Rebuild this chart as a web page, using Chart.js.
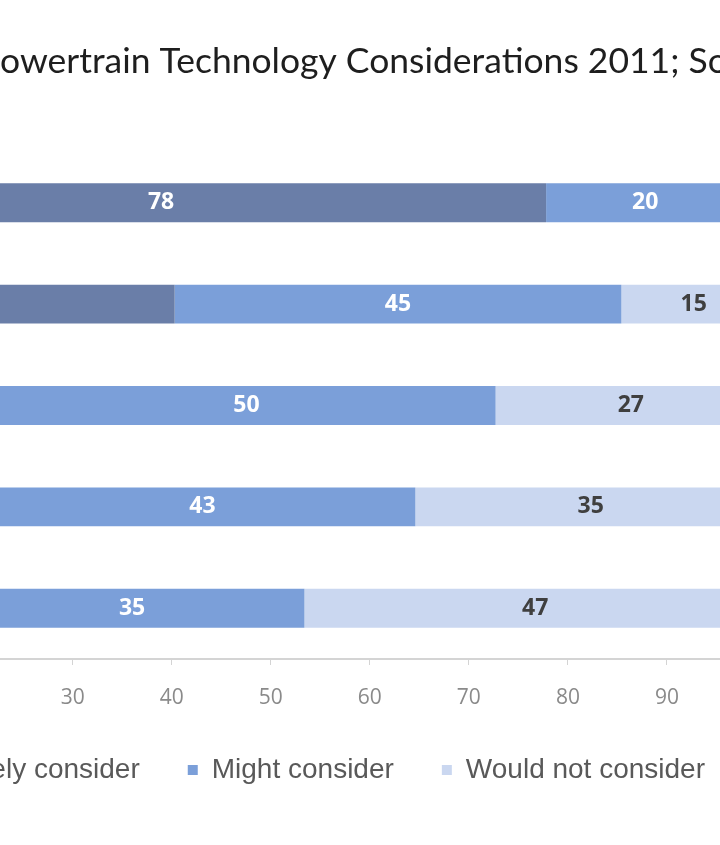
<!DOCTYPE html>
<html>
<head>
<meta charset="utf-8">
<script src="https://cdn.jsdelivr.net/npm/chart.js@4.4.1/dist/chart.umd.min.js"></script>
<style>
    html, body { margin: 0; padding: 0; overflow: hidden; background: #ffffff; }
    #wrap { position: absolute; left: -500px; top: 0; width: 1304px; height: 845px; }
</style>
</head>
<body>
<div id="wrap"><canvas id="powertrainChart"></canvas></div>
<script>
// Chart data (labels are shown rounded like the original)
const chartTitle = 'Powertrain Technology Considerations 2011; Source: J.D. Power';
const categories = ['Gasoline', 'Hybrid', 'Clean diesel', 'Plug-in hybrid', 'Electric'];
const seriesNames = ['Definitely consider', 'Might consider', 'Would not consider'];
const definitely = [77.8, 40.3, 22.4, 21.6, 18.6];
const might = [20.0, 45.1, 50.3, 43.0, 34.8];
const wouldNot = [2.2, 14.6, 27.3, 35.4, 46.6];
const xMin = 0, xMax = 100, xStep = 10;

const barColors = ['#6a7ea8', '#7b9fd9', '#cad7f0'];
const labelColors = ['#ffffff', '#ffffff', '#3f3f3f'];

// the wrapper is shifted left, so the canvas starts 500px before the window
const offsetX = 500;

// title drawn straight on the canvas, sized so the visible part fits the window
const titlePlugin = {
    id: 'titleText',
    afterDraw(chart) {
        const ctx = chart.ctx;
        ctx.save();
        ctx.font = '100px Lato';
        const w = ctx.measureText('owertrain Technology Considerations 2011; S').width;
        const size = 100 * 708 / w;
        ctx.font = size + 'px Lato';
        const wP = ctx.measureText('P').width;
        ctx.fillStyle = '#1e1e1e';
        ctx.textBaseline = 'alphabetic';
        ctx.textAlign = 'left';
        ctx.fillText(chartTitle, offsetX + 1 - wP, 73);
        ctx.restore();
    }
};

// value labels in the middle of each segment
const valueLabels = {
    id: 'valueLabels',
    afterDatasetsDraw(chart) {
        const ctx = chart.ctx;
        ctx.save();
        ctx.font = 'bold 23px "Open Sans"';
        ctx.textAlign = 'center';
        ctx.textBaseline = 'middle';
        chart.data.datasets.forEach((ds, di) => {
            const meta = chart.getDatasetMeta(di);
            ctx.fillStyle = labelColors[di];
            meta.data.forEach((bar, i) => {
                const cx = (bar.x + bar.base) / 2;
                ctx.fillText(Math.round(ds.data[i]), cx, bar.y);
            });
        });
        ctx.restore();
    }
};

// nudge the legend sideways, like the hand placed legend of the original
const legendShift = {
    id: 'legendShift',
    afterLayout(chart) {
        chart.legend.left += 149;
        chart.legend.right += 149;
    }
};

const ctx = document.getElementById('powertrainChart').getContext('2d');

const powertrainChart = new Chart(ctx, {
    type: 'bar',
    data: {
        labels: categories,
        datasets: [
            { label: seriesNames[0], data: definitely, backgroundColor: barColors[0] },
            { label: seriesNames[1], data: might, backgroundColor: barColors[1] },
            { label: seriesNames[2], data: wouldNot, backgroundColor: barColors[2] }
        ]
    },
    options: {
        indexAxis: 'y',
        responsive: true,
        maintainAspectRatio: false,
        animation: false,
        layout: {
            padding: { top: 152, left: 10, right: 20, bottom: 51 }
        },
        datasets: {
            bar: { categoryPercentage: 1, barPercentage: 0.384, borderWidth: 0 }
        },
        plugins: {
            title: { display: false },
            tooltip: { enabled: false },
            legend: {
                position: 'bottom',
                labels: {
                    boxWidth: 10,
                    boxHeight: 10,
                    padding: 48,
                    color: '#595959',
                    font: { family: '"Liberation Sans", Arial, sans-serif', size: 28, lineHeight: 1 }
                }
            }
        },
        scales: {
            x: {
                stacked: true,
                min: xMin,
                max: xMax,
                ticks: {
                    stepSize: xStep,
                    padding: 20,
                    color: '#8a8a8a',
                    font: { family: '"Open Sans"', size: 21 }
                },
                grid: { drawOnChartArea: false, drawTicks: true, tickLength: 6, color: '#d4d4d4' },
                border: { color: '#d4d4d4', width: 2 },
                afterFit: function(scale) { scale.height = 49; }
            },
            y: {
                stacked: true,
                ticks: { color: '#595959', font: { family: '"Open Sans"', size: 20 } },
                grid: { display: false },
                border: { display: false },
                afterFit: function(scale) { scale.width = 265.5; }
            }
        }
    },
    plugins: [titlePlugin, valueLabels, legendShift]
});
</script>
</body>
</html>
